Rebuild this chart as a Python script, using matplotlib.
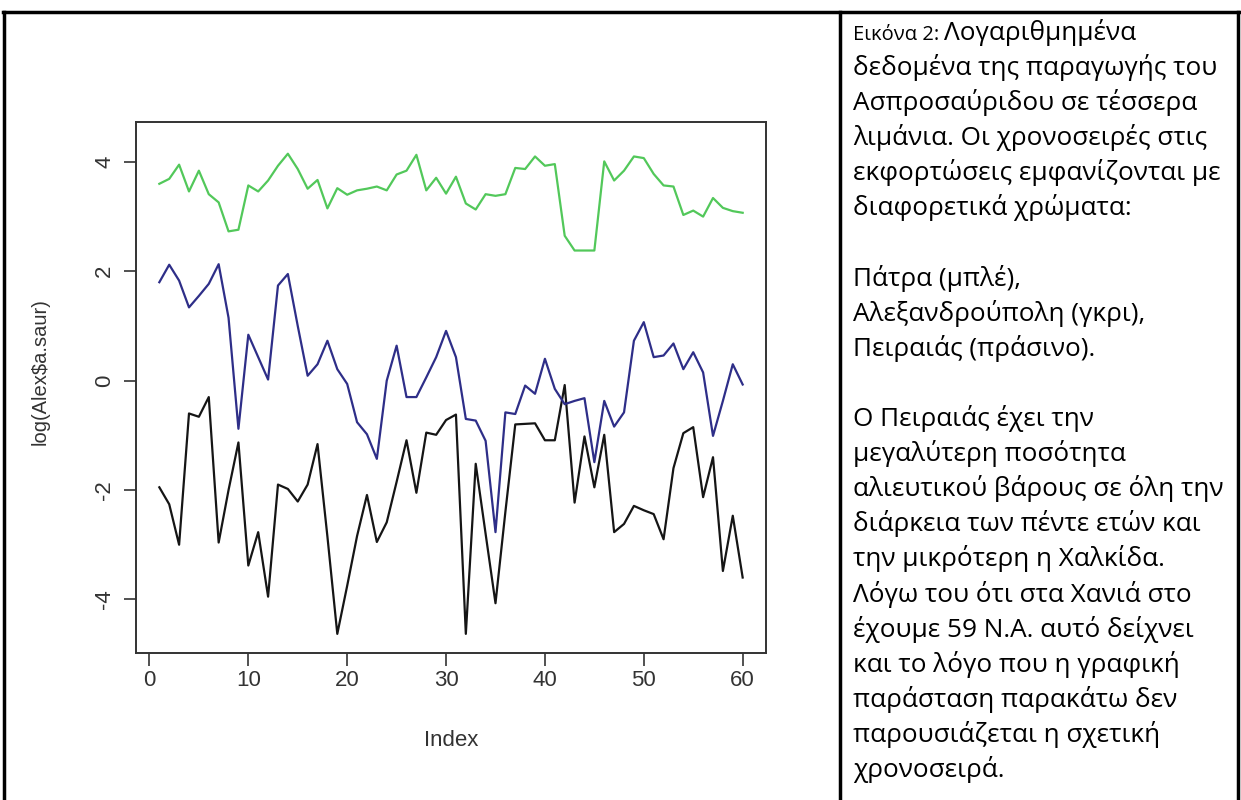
import numpy as np
import matplotlib.pyplot as plt

W, H = 1241, 800

# series (log landings), index 1..60
index = np.arange(1, 61)
green = [3.60, 3.69, 3.95, 3.46, 3.84, 3.41, 3.26, 2.73, 2.76, 3.57,
         3.46, 3.66, 3.93, 4.15, 3.87, 3.51, 3.67, 3.15, 3.52, 3.40,
         3.48, 3.51, 3.55, 3.48, 3.77, 3.84, 4.13, 3.48, 3.71, 3.42,
         3.73, 3.24, 3.13, 3.41, 3.38, 3.41, 3.89, 3.87, 4.10, 3.93,
         3.96, 2.65, 2.38, 2.38, 2.38, 4.01, 3.66, 3.84, 4.10, 4.07,
         3.78, 3.57, 3.55, 3.03, 3.11, 3.00, 3.34, 3.16, 3.10, 3.07]
blue = [1.80, 2.12, 1.83, 1.34, 1.55, 1.77, 2.13, 1.15, -0.88, 0.84,
        0.43, 0.02, 1.74, 1.95, 1.00, 0.09, 0.30, 0.73, 0.21, -0.06,
        -0.76, -0.98, -1.43, 0.00, 0.64, -0.30, -0.30, 0.06, 0.43, 0.91,
        0.43, -0.70, -0.73, -1.10, -2.77, -0.58, -0.61, -0.09, -0.24, 0.40,
        -0.15, -0.43, -0.37, -0.32, -1.49, -0.37, -0.84, -0.58, 0.73, 1.07,
        0.43, 0.46, 0.68, 0.21, 0.52, 0.15, -1.01, -0.37, 0.30, -0.07]
black = [-1.95, -2.26, -3.00, -0.60, -0.66, -0.30, -2.96, -2.00, -1.13, -3.38,
         -2.77, -3.95, -1.90, -1.98, -2.21, -1.90, -1.16, -2.85, -4.63, -3.75,
         -2.84, -2.09, -2.95, -2.59, -1.85, -1.09, -2.05, -0.95, -0.99, -0.72,
         -0.62, -4.63, -1.52, -2.80, -4.07, -2.40, -0.80, -0.79, -0.78, -1.09,
         -1.09, -0.08, -2.23, -1.02, -1.95, -0.99, -2.77, -2.62, -2.29, -2.37,
         -2.44, -2.90, -1.60, -0.96, -0.85, -2.13, -1.40, -3.48, -2.47, -3.60]

x_ticks = [0, 10, 20, 30, 40, 50, 60]
y_ticks = [-4, -2, 0, 2, 4]

caption_head = "Εικόνα 2:"
caption_lines = [
    "Λογαριθμημένα",
    "δεδομένα της παραγωγής του",
    "Ασπροσαύριδου σε τέσσερα",
    "λιμάνια. Οι χρονοσειρές στις",
    "εκφορτώσεις εμφανίζονται με",
    "διαφορετικά χρώματα:",
    "",
    "Πάτρα (μπλέ),",
    "Αλεξανδρούπολη (γκρι),",
    "Πειραιάς (πράσινο).",
    "",
    "Ο Πειραιάς έχει την",
    "μεγαλύτερη ποσότητα",
    "αλιευτικού βάρους σε όλη την",
    "διάρκεια των πέντε ετών και",
    "την μικρότερη η Χαλκίδα.",
    "Λόγω του ότι στα Χανιά στο",
    "έχουμε 59 Ν.Α. αυτό δείχνει",
    "και το λόγο που η γραφική",
    "παράσταση παρακάτω δεν",
    "παρουσιάζεται η σχετική",
    "χρονοσειρά.",
]

plt.rcParams['font.family'] = ['Liberation Sans', 'DejaVu Sans']
plt.rcParams['axes.unicode_minus'] = False

fig = plt.figure(figsize=(W / 100, H / 100), dpi=100)

def fx(px):
    return px / W

def fy(py):
    return 1 - py / H

# R-style plot in the left cell
ax = fig.add_axes([fx(136), fy(653), fx(766) - fx(136), fy(122) - fy(653)])
ax.plot(index, black, color='#151515', lw=1.6)
ax.plot(index, blue, color='#2e2e88', lw=1.6)
ax.plot(index, green, color='#52c85a', lw=1.6)
ax.set_xlim(-1.36, 62.36)
ax.set_ylim(-4.98, 4.73)
ax.set_xticks(x_ticks)
ax.set_yticks(y_ticks)
ax.tick_params(direction='out', length=9, width=1.2, color='#333333',
               labelsize=16, labelcolor='#333333')
ax.tick_params(axis='x', pad=3)
ax.tick_params(axis='y', labelrotation=90, pad=6)
plt.setp(ax.get_yticklabels(), va='center')
for s in ax.spines.values():
    s.set_linewidth(1.4)
    s.set_color('#333333')

fig.text(fx(451), fy(740), 'Index', ha='center', va='center', fontsize=16, color='#333333')
fig.text(fx(40), fy(372), 'log(Alex$a.saur)', ha='center', va='center',
         rotation=90, fontsize=14.5, color='#333333')

# table borders
def border(x0, y0, x1, y1):
    fig.add_artist(plt.Line2D([fx(x0), fx(x1)], [fy(y0), fy(y1)],
                              transform=fig.transFigure, color='black', lw=2.5))

border(3, 12, 1239, 12)
border(4, 12, 4, 800)
border(840, 12, 840, 800)
border(1238, 12, 1238, 800)

# caption text in the right cell
tfont = ['Open Sans', 'DejaVu Sans']
x0 = 853
step = 35.1
head = fig.text(fx(x0), fy(40), caption_head, fontsize=14.5, family=tfont, va='baseline')
fig.canvas.draw()
bb = head.get_window_extent()
for k, line in enumerate(caption_lines):
    if not line:
        continue
    xx = bb.x1 / W + fx(5) if k == 0 else fx(x0)
    fig.text(xx, fy(40 + step * k), line, fontsize=18.8, family=tfont, va='baseline')

fig.savefig('out.png', dpi=100)
